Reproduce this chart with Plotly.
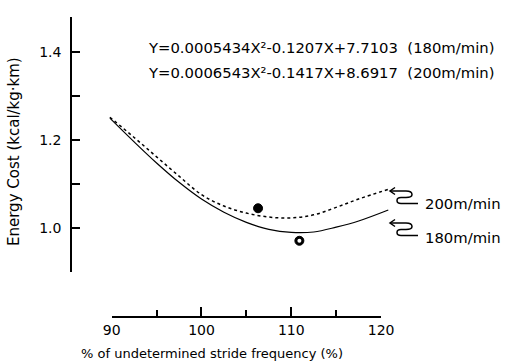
import plotly.graph_objects as go

# ---- data ----
x_180 = [89.8, 92.5, 95, 97.5, 100, 102.5, 105, 107.5, 110, 112.5, 115, 117.5, 120.8]
y_180 = [1.250, 1.196, 1.148, 1.104, 1.066, 1.036, 1.013, 0.997, 0.990, 0.991, 1.002, 1.016, 1.041]
x_200 = [89.8, 92.5, 95, 97.5, 100, 102.5, 105, 107.5, 110, 112.5, 115, 117.5, 120.8]
y_200 = [1.252, 1.206, 1.162, 1.118, 1.076, 1.050, 1.034, 1.025, 1.023, 1.030, 1.047, 1.066, 1.088]
pt_200 = ([106.3], [1.045])
pt_180 = ([110.9], [0.971])
eq_180 = "Y=0.0005434X²-0.1207X+7.7103  (180m/min)"
eq_200 = "Y=0.0006543X²-0.1417X+8.6917  (200m/min)"
y_ticks = [0.9, 1.0, 1.1, 1.2, 1.3, 1.4, 1.48]
y_ticktext = ["", "1.0", "", "1.2", "", "1.4", ""]
x_ticks = [90, 100, 110, 120]
x_minor = [95, 105, 115]

# ---- layout geometry ----
W, H = 507, 363
L, R, T, B = 71, 81, 17, 47
PW, PH = W - L - R, H - T - B
XR = [85.47, 125.0]

def px(xp):
    return (xp - L) / PW

def py(yp):
    return (H - B - yp) / PH

FONT = "DejaVu Sans"

fig = go.Figure()
fig.add_trace(go.Scatter(x=x_200, y=y_200, mode="lines",
                         line=dict(color="black", width=1.5, dash="dot", shape="spline"),
                         showlegend=False))
fig.add_trace(go.Scatter(x=x_180, y=y_180, mode="lines",
                         line=dict(color="black", width=1.2, shape="spline"),
                         showlegend=False))
fig.add_trace(go.Scatter(x=pt_200[0], y=pt_200[1], mode="markers",
                         marker=dict(color="black", size=9, line=dict(color="black", width=1)),
                         showlegend=False))
fig.add_trace(go.Scatter(x=pt_180[0], y=pt_180[1], mode="markers",
                         marker=dict(color="black", size=9, line=dict(color="black", width=1)),
                         showlegend=False))
fig.add_trace(go.Scatter(x=pt_180[0], y=pt_180[1], mode="markers",
                         marker=dict(color="white", size=4, symbol="circle"),
                         showlegend=False))
# dummy trace for the detached x axis
fig.add_trace(go.Scatter(x=[], y=[], xaxis="x2", yaxis="y2", showlegend=False))

d0 = (90 - XR[0]) / (XR[1] - XR[0])
d1 = (120 - XR[0]) / (XR[1] - XR[0])
ybot = py(272)

fig.update_layout(
    width=W, height=H,
    margin=dict(l=L, r=R, t=T, b=B, autoexpand=False),
    paper_bgcolor="white", plot_bgcolor="white",
    font=dict(family=FONT, color="black", size=14),
    xaxis=dict(domain=[0, 1], range=XR, showline=False, showticklabels=False,
               ticks="", showgrid=False, zeroline=False, automargin=False),
    yaxis=dict(domain=[ybot, 1], range=[0.9, 1.48], anchor="free", position=0,
               showline=True, linecolor="black", linewidth=1.5,
               ticks="inside", ticklen=8, tickwidth=1.5, tickcolor="black",
               tickvals=y_ticks, ticktext=y_ticktext, automargin=False,
               showgrid=False, zeroline=False, ticklabelstandoff=6,
               tickfont=dict(size=14)),
    xaxis2=dict(domain=[d0, d1], range=[90, 120], anchor="y2", automargin=False,
                showline=True, linecolor="black", linewidth=1.5,
                ticks="inside", ticklen=9, tickwidth=1.5, tickcolor="black",
                tickvals=x_ticks, showgrid=False, zeroline=False,
                minor=dict(tickvals=x_minor, ticks="inside", ticklen=6,
                           tickwidth=1.5, tickcolor="black"),
                tickfont=dict(size=14), ticklabelstandoff=0),
    yaxis2=dict(domain=[0, 0.01], visible=False, range=[0, 1], automargin=False),
)

ann = [
    dict(text=eq_180, x=px(146), y=py(47), xanchor="left", yanchor="middle", font=dict(size=14.8)),
    dict(text=eq_200, x=px(146), y=py(72), xanchor="left", yanchor="middle", font=dict(size=14.8)),
    dict(text="200m/min", x=px(423), y=py(203), xanchor="left", yanchor="middle", font=dict(size=14.8)),
    dict(text="180m/min", x=px(423), y=py(238), xanchor="left", yanchor="middle", font=dict(size=14.8)),
    dict(text="% of undetermined stride frequency (%)", x=px(212), y=py(353),
         xanchor="center", yanchor="middle", font=dict(size=13)),
    dict(text="Energy Cost (kcal/kg·km)", x=px(14), y=py(152), textangle=-90,
         xanchor="center", yanchor="middle", font=dict(size=15)),
]
for a in ann:
    a.update(xref="paper", yref="paper", showarrow=False)
fig.update_layout(annotations=ann)

def squiggle(y0):
    pts = lambda x, y: f"{px(x):.5f},{py(y):.5f}"
    d = (f"M {pts(390, y0)} L {pts(406, y0)} Q {pts(412, y0)} {pts(412, y0+3.5)} "
         f"Q {pts(412, y0+6.5)} {pts(406, y0+6.5)} L {pts(401, y0+6.5)} "
         f"Q {pts(397, y0+6.5)} {pts(397, y0+9.5)} Q {pts(397, y0+12.5)} {pts(401, y0+12.5)} "
         f"L {pts(418, y0+12.5)}")
    head = f"M {pts(395, y0-3.5)} L {pts(390, y0)} L {pts(395, y0+3.5)}"
    return [dict(type="path", path=d, xref="paper", yref="paper",
                 line=dict(color="black", width=1.5)),
            dict(type="path", path=head, xref="paper", yref="paper",
                 line=dict(color="black", width=1.5))]

shapes = squiggle(191) + squiggle(223)
fig.update_layout(shapes=shapes)

fig.write_html("out.html", config={"displayModeBar": False},
               post_script="document.body.style.margin='0';document.body.style.overflow='hidden';")
